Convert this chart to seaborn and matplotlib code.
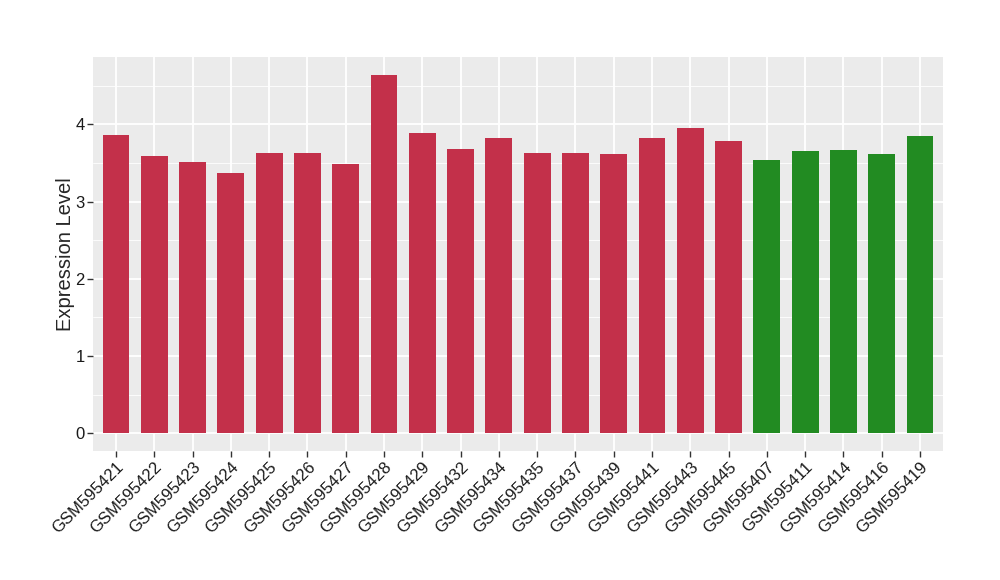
import numpy as np
import pandas as pd
import matplotlib
matplotlib.use("Agg")
import matplotlib.pyplot as plt
import matplotlib.ticker as ticker
import seaborn as sns

samples = ["GSM595421", "GSM595422", "GSM595423", "GSM595424", "GSM595425", "GSM595426",
           "GSM595427", "GSM595428", "GSM595429", "GSM595432", "GSM595434", "GSM595435",
           "GSM595437", "GSM595439", "GSM595441", "GSM595443", "GSM595445",
           "GSM595407", "GSM595411", "GSM595414", "GSM595416", "GSM595419"]
values = [3.86, 3.59, 3.51, 3.37, 3.63, 3.63, 3.49, 4.64, 3.89, 3.68, 3.82, 3.63,
          3.63, 3.62, 3.82, 3.95, 3.79, 3.54, 3.66, 3.67, 3.62, 3.85]
groups = ["A"] * 17 + ["B"] * 5
colors = {"A": "#C3304A", "B": "#228B22"}

df = pd.DataFrame({"sample": samples, "value": values, "group": groups})

sns.set_style("darkgrid", {"axes.facecolor": "#EBEBEB", "grid.color": "white"})
plt.rcParams['font.family'] = ['Liberation Sans', 'DejaVu Sans']

fig = plt.figure(figsize=(10, 5.8), dpi=100)
ax = fig.add_axes([0.093, 0.2224, 0.85, 0.6793])
sns.barplot(data=df, x="sample", y="value", hue="group", palette=colors,
            width=0.7, dodge=False, legend=False, ax=ax, saturation=1, linewidth=0)

ax.set_xlim(-0.6, len(samples) - 0.4)
ax.set_ylim(-0.232, 4.872)
ax.yaxis.set_major_locator(ticker.MultipleLocator(1))
ax.yaxis.set_minor_locator(ticker.MultipleLocator(0.5))
ax.grid(which="major", color="white", linewidth=1.3)
ax.grid(which="minor", axis="y", color="white", linewidth=0.6)
ax.set_axisbelow(True)
for s in ax.spines.values():
    s.set_visible(False)

ax.tick_params(axis="both", which="major", length=4, width=1, color="#333333",
               labelsize=12, labelcolor="#1a1a1a", bottom=True, left=True, pad=2)
ax.tick_params(axis="y", which="minor", length=0)
plt.setp(ax.get_xticklabels(), rotation=45, ha="right", rotation_mode="anchor")
ax.set_xlabel("")
ax.set_ylabel("Expression Level", fontsize=14.5, labelpad=0)

fig.savefig("out.png", dpi=100)
